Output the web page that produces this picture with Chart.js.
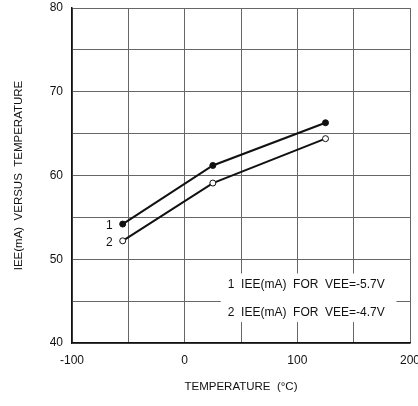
<!DOCTYPE html>
<html>
<head>
<meta charset="utf-8">
<script src="https://cdn.jsdelivr.net/npm/chart.js@4.4.0/dist/chart.umd.min.js"></script>
<style>
  html, body { margin: 0; padding: 0; background: #fff; }
  #wrap { width: 418px; height: 406px; }
</style>
</head>
<body>
<div id="wrap"><canvas id="myChart" width="418" height="406"></canvas></div>
<script>
// temperature (°C) of the measured points
const temps = [-55, 25, 125];
// IEE (mA) at VEE = -5.7V and -4.7V
const ieeVee57 = [54.2, 61.2, 66.3];
const ieeVee47 = [52.2, 59.1, 64.4];
const seriesTags = ['1', '2'];
const legendLines = ['1  IEE(mA)  FOR  VEE=-5.7V', '2  IEE(mA)  FOR  VEE=-4.7V'];

const font = '"Liberation Sans", Arial, sans-serif';
const ink = '#111';

function toPoints(xs, ys) {
  return xs.map((x, i) => ({ x: x, y: ys[i] }));
}

// small "1" / "2" tags next to the first point of each curve, and the boxed key
const notes = {
  id: 'notes',
  afterDatasetsDraw(chart) {
    const c = chart.ctx;
    const xs = chart.scales.x, ys = chart.scales.y;
    c.save();
    c.fillStyle = ink;
    c.font = '12px ' + font;
    c.textAlign = 'right';
    c.textBaseline = 'middle';
    chart.data.datasets.forEach((ds, i) => {
      const p = ds.data[0];
      c.fillText(seriesTags[i], xs.getPixelForValue(p.x) - 10, ys.getPixelForValue(p.y) + 2);
    });

    // key box sits on the grid, hiding it
    const left = xs.getPixelForValue(32), right = xs.getPixelForValue(188);
    const top = ys.getPixelForValue(48.3), bottom = ys.getPixelForValue(42.5);
    c.fillStyle = '#fff';
    c.fillRect(left, top, right - left, bottom - top);
    c.fillStyle = ink;
    c.font = '12px ' + font;
    c.textAlign = 'left';
    legendLines.forEach((t, i) => {
      c.fillText(t, left + 7, top + 11 + i * 28);
    });
    c.restore();
  }
};

new Chart(document.getElementById('myChart').getContext('2d'), {
  type: 'line',
  data: {
    datasets: [{
      label: legendLines[0],
      data: toPoints(temps, ieeVee57),
      borderColor: ink,
      borderWidth: 2,
      pointBackgroundColor: ink,
      pointBorderColor: ink,
      pointBorderWidth: 1,
      pointRadius: 3,
      tension: 0
    }, {
      label: legendLines[1],
      data: toPoints(temps, ieeVee47),
      borderColor: ink,
      borderWidth: 2,
      pointBackgroundColor: '#fff',
      pointBorderColor: ink,
      pointBorderWidth: 1,
      pointRadius: 3,
      tension: 0
    }]
  },
  options: {
    responsive: false,
    animation: false,
    layout: { padding: { top: 8, right: 8, left: 0, bottom: 0 } },
    plugins: {
      legend: { display: false },
      tooltip: { enabled: false }
    },
    scales: {
      x: {
        type: 'linear',
        min: -100,
        max: 200,
        grid: { color: '#666', lineWidth: 1, drawTicks: false },
        border: { color: ink, width: 1.5 },
        ticks: {
          stepSize: 50,
          padding: 10,
          color: ink,
          font: { family: font, size: 12 },
          maxRotation: 0,
          callback: v => (v % 100 === 0 ? String(v) : '')
        },
        title: {
          display: true,
          text: 'TEMPERATURE  (°C)',
          color: ink,
          font: { family: font, size: 11.5 },
          padding: { top: 0, bottom: 12 }
        },
        afterFit(scale) {
          scale.height = 63;
          scale.paddingLeft = 0;
          scale.paddingRight = 0;
        }
      },
      y: {
        min: 40,
        max: 80,
        grid: { color: '#666', lineWidth: 1, drawTicks: false },
        border: { color: ink, width: 1.5 },
        ticks: {
          stepSize: 5,
          padding: 9,
          color: ink,
          font: { family: font, size: 12 },
          callback: v => (v % 10 === 0 ? String(v) : '')
        },
        title: {
          display: true,
          text: 'IEE(mA)  VERSUS  TEMPERATURE',
          color: ink,
          font: { family: font, size: 11.5 },
          padding: { top: 12, bottom: 0 }
        },
        afterFit(scale) {
          scale.width = 72;
          scale.paddingTop = 0;
          scale.paddingBottom = 0;
        }
      }
    }
  },
  plugins: [notes]
});
</script>
</body>
</html>
